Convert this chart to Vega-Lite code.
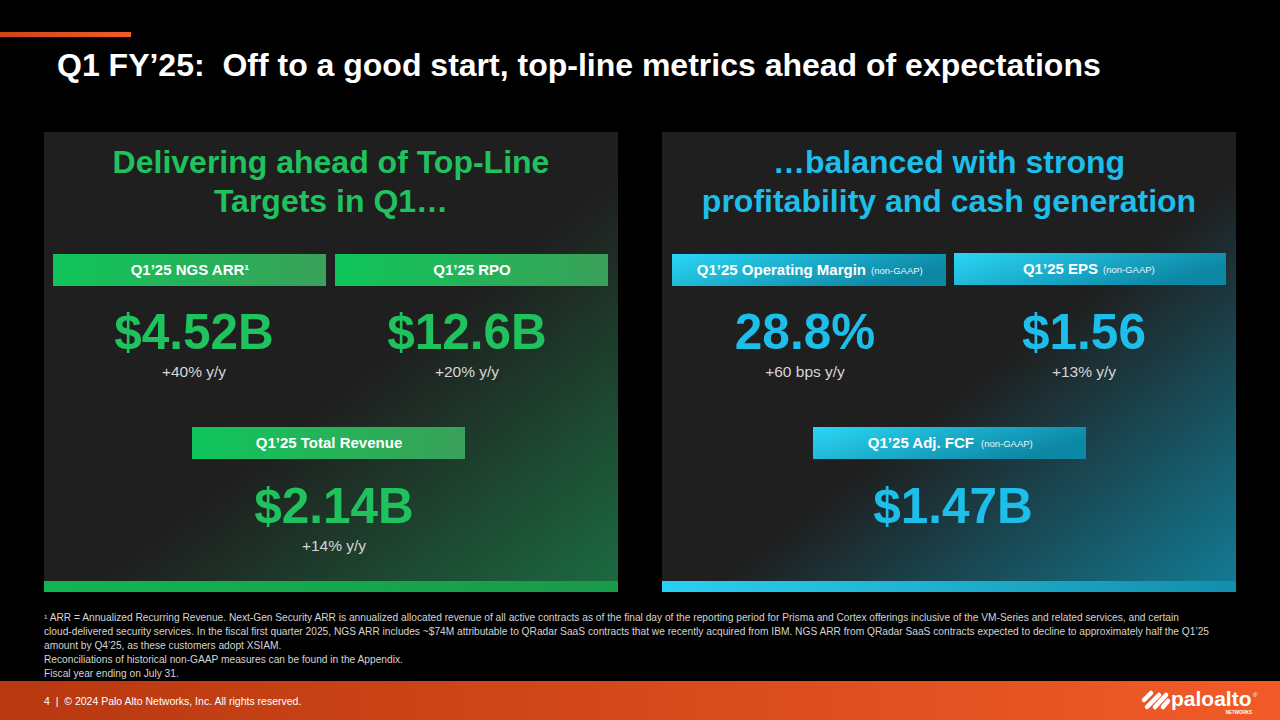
{
 "$schema": "https://vega.github.io/schema/vega-lite/v6.json",
 "width": 1280, "height": 720,
 "autosize": {"type": "fit", "contains": "padding"},
 "padding": 0,
 "background": "#000000",
 "config": {"view": {"stroke": null}},
 "data": {"values": [
  {"role": "topline", "x": 0, "x2": 131, "y": 32, "y2": 37},
  {"role": "panelL", "x": 44, "x2": 618, "y": 132, "y2": 581},
  {"role": "panelR", "x": 662, "x2": 1236, "y": 132, "y2": 581},
  {"role": "barL", "x": 44, "x2": 618, "y": 581, "y2": 592},
  {"role": "barR", "x": 662, "x2": 1236, "y": 581, "y2": 592},
  {"role": "boxL", "x": 53, "x2": 326, "y": 254, "y2": 286},
  {"role": "boxL", "x": 335, "x2": 608, "y": 254, "y2": 286},
  {"role": "boxL", "x": 192, "x2": 465, "y": 427, "y2": 459},
  {"role": "boxR", "x": 672, "x2": 946, "y": 254, "y2": 286},
  {"role": "boxR", "x": 954, "x2": 1226, "y": 253, "y2": 285},
  {"role": "boxR", "x": 813, "x2": 1086, "y": 427, "y2": 459},
  {"role": "footer", "x": 0, "x2": 1280, "y": 681, "y2": 720},
  {"role": "title", "x": 57, "y": 76, "text": "Q1 FY’25: \u00a0Off to a good start, top-line metrics ahead of expectations"},
  {"role": "ptitle", "side": "L", "x": 331, "y": 173, "text": "Delivering ahead of Top-Line"},
  {"role": "ptitle", "side": "L", "x": 331, "y": 212, "text": "Targets in Q1…"},
  {"role": "ptitle", "side": "R", "x": 949, "y": 173, "text": "…balanced with strong"},
  {"role": "ptitle", "side": "R", "x": 949, "y": 212, "text": "profitability and cash generation"},
  {"role": "hdrC", "x": 190, "y": 275, "text": "Q1’25 NGS ARR¹"},
  {"role": "hdrC", "x": 472, "y": 275, "text": "Q1’25 RPO"},
  {"role": "hdrC", "x": 329, "y": 448, "text": "Q1’25 Total Revenue"},
  {"role": "hdrR", "x": 866, "y": 275, "text": "Q1’25 Operating Margin"},
  {"role": "hdrR", "x": 1098, "y": 274, "text": "Q1’25 EPS"},
  {"role": "hdrR", "x": 974, "y": 448, "text": "Q1’25 Adj. FCF"},
  {"role": "ng", "x": 871, "y": 274, "text": "(non-GAAP)"},
  {"role": "ng", "x": 1103, "y": 273, "text": "(non-GAAP)"},
  {"role": "ng", "x": 981, "y": 447, "text": "(non-GAAP)"},
  {"role": "big", "side": "L", "x": 194, "y": 349, "text": "$4.52B"},
  {"role": "big", "side": "L", "x": 467, "y": 349, "text": "$12.6B"},
  {"role": "big", "side": "L", "x": 334, "y": 523, "text": "$2.14B"},
  {"role": "big", "side": "R", "x": 805, "y": 349, "text": "28.8%"},
  {"role": "big", "side": "R", "x": 1084, "y": 349, "text": "$1.56"},
  {"role": "big", "side": "R", "x": 953, "y": 523, "text": "$1.47B"},
  {"role": "sub", "x": 194, "y": 377, "text": "+40% y/y"},
  {"role": "sub", "x": 467, "y": 377, "text": "+20% y/y"},
  {"role": "sub", "x": 334, "y": 551, "text": "+14% y/y"},
  {"role": "sub", "x": 805, "y": 377, "text": "+60 bps y/y"},
  {"role": "sub", "x": 1084, "y": 377, "text": "+13% y/y"},
  {"role": "fn", "x": 44, "y": 621, "text": "¹ ARR = Annualized Recurring Revenue. Next-Gen Security ARR is annualized allocated revenue of all active contracts as of the final day of the reporting period for Prisma and Cortex offerings inclusive of the VM-Series and related services, and certain"},
  {"role": "fn", "x": 44, "y": 635, "text": "cloud-delivered security services. In the fiscal first quarter 2025, NGS ARR includes ~$74M attributable to QRadar SaaS contracts that we recently acquired from IBM. NGS ARR from QRadar SaaS contracts expected to decline to approximately half the Q1’25"},
  {"role": "fn", "x": 44, "y": 649, "text": "amount by Q4’25, as these customers adopt XSIAM."},
  {"role": "fn", "x": 44, "y": 663, "text": "Reconciliations of historical non-GAAP measures can be found in the Appendix."},
  {"role": "fn", "x": 44, "y": 677, "text": "Fiscal year ending on July 31."},
  {"role": "foot", "x": 44, "y": 705, "text": "4 \u00a0| \u00a0© 2024 Palo Alto Networks, Inc. All rights reserved."},
  {"role": "logo", "x": 1171, "y": 706, "text": "paloalto"},
  {"role": "logosm", "x": 1252, "y": 714, "text": "NETWORKS"},
  {"role": "logoreg", "x": 1253, "y": 697, "text": "®"},
  {"role": "icon", "x": 1144, "y": 700, "x2": 1151, "y2": 693},
  {"role": "icon", "x": 1147, "y": 707, "x2": 1159, "y2": 695},
  {"role": "icon", "x": 1155, "y": 707, "x2": 1166, "y2": 695},
  {"role": "icon", "x": 1163, "y": 707, "x2": 1168, "y2": 701}
 ]},
 "encoding": {
  "x": {"field": "x", "type": "quantitative", "scale": {"domain": [0, 1280], "nice": false, "zero": false}, "axis": null},
  "y": {"field": "y", "type": "quantitative", "scale": {"domain": [0, 720], "nice": false, "zero": false, "reverse": true}, "axis": null}
 },
 "layer": [
  {"transform": [{"filter": "datum.role==='topline'"}], "mark": {"type": "rect", "color": {"gradient": "linear", "x1": 0, "y1": 0, "x2": 1, "y2": 0, "stops": [{"offset": 0, "color": "#cf4418"}, {"offset": 1, "color": "#f25c29"}]}}, "encoding": {"x2": {"field": "x2"}, "y2": {"field": "y2"}}},
  {"transform": [{"filter": "datum.role==='panelL'"}], "mark": {"type": "rect", "color": {"gradient": "linear", "x1": 0, "y1": 0, "x2": 1, "y2": 1, "stops": [{"offset": 0, "color": "#1f1f1f"}, {"offset": 0.55, "color": "#1f1f1f"}, {"offset": 1, "color": "#1b6a40"}]}}, "encoding": {"x2": {"field": "x2"}, "y2": {"field": "y2"}}},
  {"transform": [{"filter": "datum.role==='panelR'"}], "mark": {"type": "rect", "color": {"gradient": "linear", "x1": 0, "y1": 0, "x2": 1, "y2": 1, "stops": [{"offset": 0, "color": "#1f1f1f"}, {"offset": 0.55, "color": "#1f1f1f"}, {"offset": 1, "color": "#127a93"}]}}, "encoding": {"x2": {"field": "x2"}, "y2": {"field": "y2"}}},
  {"transform": [{"filter": "datum.role==='barL'"}], "mark": {"type": "rect", "color": {"gradient": "linear", "x1": 0, "y1": 0, "x2": 1, "y2": 0, "stops": [{"offset": 0, "color": "#10b552"}, {"offset": 1, "color": "#1a9a49"}]}}, "encoding": {"x2": {"field": "x2"}, "y2": {"field": "y2"}}},
  {"transform": [{"filter": "datum.role==='barR'"}], "mark": {"type": "rect", "color": {"gradient": "linear", "x1": 0, "y1": 0, "x2": 1, "y2": 0, "stops": [{"offset": 0, "color": "#2ad0f1"}, {"offset": 1, "color": "#138eab"}]}}, "encoding": {"x2": {"field": "x2"}, "y2": {"field": "y2"}}},
  {"transform": [{"filter": "datum.role==='boxL'"}], "mark": {"type": "rect", "color": {"gradient": "linear", "x1": 0, "y1": 0, "x2": 1, "y2": 0, "stops": [{"offset": 0, "color": "#0fc55b"}, {"offset": 1, "color": "#3aa159"}]}}, "encoding": {"x2": {"field": "x2"}, "y2": {"field": "y2"}}},
  {"transform": [{"filter": "datum.role==='boxR'"}], "mark": {"type": "rect", "color": {"gradient": "linear", "x1": 0, "y1": 0, "x2": 1, "y2": 0.4, "stops": [{"offset": 0, "color": "#2bd6f6"}, {"offset": 1, "color": "#0c87a4"}]}}, "encoding": {"x2": {"field": "x2"}, "y2": {"field": "y2"}}},
  {"transform": [{"filter": "datum.role==='footer'"}], "mark": {"type": "rect", "color": {"gradient": "linear", "x1": 0, "y1": 0, "x2": 1, "y2": 0, "stops": [{"offset": 0, "color": "#b8380f"}, {"offset": 1, "color": "#f25b28"}]}}, "encoding": {"x2": {"field": "x2"}, "y2": {"field": "y2"}}},
  {"transform": [{"filter": "datum.role==='title'"}], "mark": {"type": "text", "align": "left", "baseline": "alphabetic", "font": "Liberation Sans", "fontWeight": "bold", "fontSize": 32, "color": "#ffffff"}, "encoding": {"text": {"field": "text"}}},
  {"transform": [{"filter": "datum.role==='ptitle'"}], "mark": {"type": "text", "align": "center", "baseline": "alphabetic", "font": "Liberation Sans", "fontWeight": "bold", "fontSize": 32}, "encoding": {"text": {"field": "text"}, "color": {"field": "side", "type": "nominal", "scale": {"domain": ["L", "R"], "range": ["#20c25e", "#1dbfea"]}, "legend": null}}},
  {"transform": [{"filter": "datum.role==='hdrC'"}], "mark": {"type": "text", "align": "center", "baseline": "alphabetic", "font": "Liberation Sans", "fontWeight": "bold", "fontSize": 15, "color": "#ffffff"}, "encoding": {"text": {"field": "text"}}},
  {"transform": [{"filter": "datum.role==='hdrR'"}], "mark": {"type": "text", "align": "right", "baseline": "alphabetic", "font": "Liberation Sans", "fontWeight": "bold", "fontSize": 15, "color": "#ffffff"}, "encoding": {"text": {"field": "text"}}},
  {"transform": [{"filter": "datum.role==='ng'"}], "mark": {"type": "text", "align": "left", "baseline": "alphabetic", "font": "Liberation Sans", "fontSize": 9.5, "color": "#e8f6fa"}, "encoding": {"text": {"field": "text"}}},
  {"transform": [{"filter": "datum.role==='big'"}], "mark": {"type": "text", "align": "center", "baseline": "alphabetic", "font": "Liberation Sans", "fontWeight": "bold", "fontSize": 49.5}, "encoding": {"text": {"field": "text"}, "color": {"field": "side", "type": "nominal", "scale": {"domain": ["L", "R"], "range": ["#20c25e", "#1dbfea"]}, "legend": null}}},
  {"transform": [{"filter": "datum.role==='sub'"}], "mark": {"type": "text", "align": "center", "baseline": "alphabetic", "font": "Liberation Sans", "fontSize": 15.5, "color": "#d6d6d6"}, "encoding": {"text": {"field": "text"}}},
  {"transform": [{"filter": "datum.role==='fn'"}], "mark": {"type": "text", "align": "left", "baseline": "alphabetic", "font": "Liberation Sans", "fontSize": 10.2, "color": "#d4d4d4"}, "encoding": {"text": {"field": "text"}}},
  {"transform": [{"filter": "datum.role==='foot'"}], "mark": {"type": "text", "align": "left", "baseline": "alphabetic", "font": "Liberation Sans", "fontSize": 10.5, "color": "#ffffff"}, "encoding": {"text": {"field": "text"}}},
  {"transform": [{"filter": "datum.role==='logo'"}], "mark": {"type": "text", "align": "left", "baseline": "alphabetic", "font": "Liberation Sans", "fontWeight": "bold", "fontSize": 21, "color": "#ffffff"}, "encoding": {"text": {"field": "text"}}},
  {"transform": [{"filter": "datum.role==='logosm'"}], "mark": {"type": "text", "align": "right", "baseline": "alphabetic", "font": "Liberation Sans", "fontWeight": "bold", "fontSize": 4.5, "color": "#ffffff"}, "encoding": {"text": {"field": "text"}}},
  {"transform": [{"filter": "datum.role==='logoreg'"}], "mark": {"type": "text", "align": "left", "baseline": "alphabetic", "font": "Liberation Sans", "fontSize": 6, "color": "#ffffff"}, "encoding": {"text": {"field": "text"}}},
  {"transform": [{"filter": "datum.role==='icon'"}], "mark": {"type": "rule", "strokeWidth": 4.5, "strokeCap": "round", "color": "#ffffff"}, "encoding": {"x2": {"field": "x2"}, "y2": {"field": "y2"}}}
 ]
}
